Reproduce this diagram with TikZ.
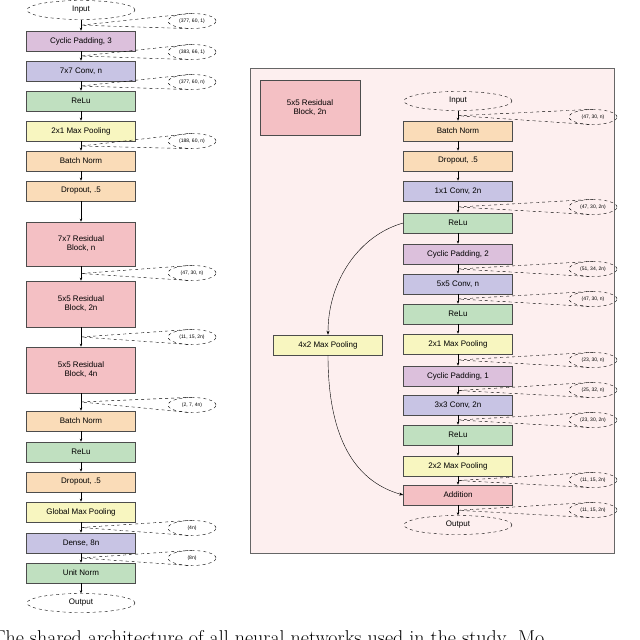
\documentclass[tikz,border=0pt]{standalone}
\usepackage{fontspec}
\setmainfont{Liberation Sans}
\newfontfamily\capfont{Latin Modern Roman}
\usetikzlibrary{shapes.geometric,arrows.meta,calc}
\definecolor{cpad}{HTML}{DCC0DC}
\definecolor{conv}{HTML}{C8C4E4}
\definecolor{relu}{HTML}{C0E0C0}
\definecolor{pool}{HTML}{F8F6C0}
\definecolor{bn}{HTML}{FADCB8}
\definecolor{res}{HTML}{F4C0C4}
\definecolor{panel}{HTML}{FDEFEF}
\begin{document}
\begin{tikzpicture}[x=1pt,y=-1pt,
  blk/.style={draw=black!70,line width=0.6pt,minimum width=109pt,minimum height=20pt,inner sep=0pt,font=\fontsize{8}{9}\selectfont,align=center},
  big/.style={blk,minimum height=44pt},
  io/.style={draw,dashed,ellipse,minimum width=108pt,minimum height=19pt,inner sep=0pt,font=\fontsize{8}{9}\selectfont},
  lab/.style={draw,dashed,ellipse,minimum width=48pt,minimum height=15pt,inner sep=0pt,font=\fontsize{5}{6}\selectfont},
  cl/.style={dashed,line width=0.4pt},
  ar/.style={-{Stealth[length=3pt,width=2.5pt]},line width=0.5pt},
  cv/.style={-{Stealth[length=4pt,width=3pt]},line width=0.4pt}]
\useasboundingbox (0,0) rectangle (640,640);
% left column
\node[io] (i) at (81,10) {Input};
\node[blk,fill=cpad] (a1) at (81,41) {Cyclic Padding, 3};
\node[blk,fill=conv] (a2) at (81,71) {7x7 Conv, n};
\node[blk,fill=relu] (a3) at (81,101) {ReLu};
\node[blk,fill=pool] (a4) at (81,131) {2x1 Max Pooling};
\node[blk,fill=bn] (a5) at (81,161) {Batch Norm};
\node[blk,fill=bn] (a6) at (81,191) {Dropout, .5};
\node[big,fill=res] (a7) at (81,244) {7x7 Residual\\Block, n};
\node[big,fill=res,minimum height=46pt] (a8) at (81,304) {5x5 Residual\\Block, 2n};
\node[big,fill=res,minimum height=46pt] (a9) at (81,370) {5x5 Residual\\Block, 4n};
\node[blk,fill=bn] (a10) at (81,421) {Batch Norm};
\node[blk,fill=relu] (a11) at (81,452) {ReLu};
\node[blk,fill=bn] (a12) at (81,482) {Dropout, .5};
\node[blk,fill=pool] (a13) at (81,512) {Global Max Pooling};
\node[blk,fill=conv] (a14) at (81,543) {Dense, 8n};
\node[blk,fill=relu] (a15) at (81,573) {Unit Norm};
\node[io] (o) at (81,603) {Output};
\foreach \p/\q in {i/a1,a1/a2,a2/a3,a3/a4,a4/a5,a5/a6,a6/a7,a7/a8,a8/a9,a9/a10,a10/a11,a11/a12,a12/a13,a13/a14,a14/a15,a15/o}
  \draw[ar] (\p) -- (\q);
% left callouts
\foreach \n/\y/\t/\p/\q in {l1/21/{(377, 60, 1)}/i/a1, l2/52/{(383, 66, 1)}/a1/a2, l3/82/{(377, 60, n)}/a2/a3, l4/141/{(188, 60, n)}/a4/a5, l5/273/{(47, 30, n)}/a7/a8, l6/337/{(11, 15, 2n)}/a8/a9, l7/405/{(2, 7, 4n)}/a9/a10, l8/528/{(4n)}/a13/a14, l9/558/{(8n)}/a14/a15}{
  \node[lab] (\n) at (192,\y) {\t};
  \coordinate (\n c) at ($(\p.south)!0.5!(\q.north)$);
  \draw[cl] (\n.north) -- (\n c) -- (\n.south);
}
% right panel
\node[draw=black!60,fill=panel,minimum width=364pt,minimum height=485pt,inner sep=0pt] (pn) at (432,310.5) {};
\node[blk,fill=res,minimum width=100pt,minimum height=55pt] (t) at (310,107.5) {5x5 Residual\\Block, 2n};
\node[io] (ri) at (458,101) {Input};
\node[blk,fill=bn] (b1) at (458,131) {Batch Norm};
\node[blk,fill=bn] (b2) at (458,161) {Dropout, .5};
\node[blk,fill=conv] (b3) at (458,191) {1x1 Conv, 2n};
\node[blk,fill=relu] (b4) at (458,223) {ReLu};
\node[blk,fill=cpad] (b5) at (458,254) {Cyclic Padding, 2};
\node[blk,fill=conv] (b6) at (458,284) {5x5 Conv, n};
\node[blk,fill=relu] (b7) at (458,314) {ReLu};
\node[blk,fill=pool] (b8) at (458,344) {2x1 Max Pooling};
\node[blk,fill=cpad] (b9) at (458,376) {Cyclic Padding, 1};
\node[blk,fill=conv] (b10) at (458,405) {3x3 Conv, 2n};
\node[blk,fill=relu] (b11) at (458,435) {ReLu};
\node[blk,fill=pool] (b12) at (458,466) {2x2 Max Pooling};
\node[blk,fill=res] (b13) at (458,495) {Addition};
\node[io] (ro) at (458,525) {Output};
\node[blk,fill=pool] (mp) at (328,345) {4x2 Max Pooling};
\foreach \p/\q in {ri/b1,b1/b2,b2/b3,b3/b4,b4/b5,b5/b6,b6/b7,b7/b8,b8/b9,b9/b10,b10/b11,b11/b12,b12/b13,b13/ro}
  \draw[ar] (\p) -- (\q);
\foreach \n/\y/\t/\p/\q in {r1/117/{(47, 30, n)}/ri/b1, r2/207/{(47, 30, 2n)}/b3/b4, r3/269/{(51, 34, 2n)}/b5/b6, r4/299/{(47, 30, n)}/b6/b7, r5/360/{(23, 30, n)}/b8/b9, r6/390/{(25, 32, n)}/b9/b10, r7/420/{(23, 30, 2n)}/b10/b11, r8/480/{(11, 15, 2n)}/b12/b13, r9/510/{(11, 15, 2n)}/b13/ro}{
  \node[lab] (\n) at (593,\y) {\t};
  \coordinate (\n c) at ($(\p.south)!0.5!(\q.north)$);
  \draw[cl] (\n.north) -- (\n c) -- (\n.south);
}
\draw[cv] (b4.west) .. controls (360,235) and (328,280) .. (mp.north);
\draw[cv] (mp.south) .. controls (328,430) and (350,480) .. (b13.west);
% caption (cut off)
\node[anchor=base west,font=\fontsize{20}{22}\selectfont\capfont,inner sep=0pt] (cap) at (-8,644) {The shared architecture of all neural networks used in the study. Mo};
\end{tikzpicture}
\end{document}
